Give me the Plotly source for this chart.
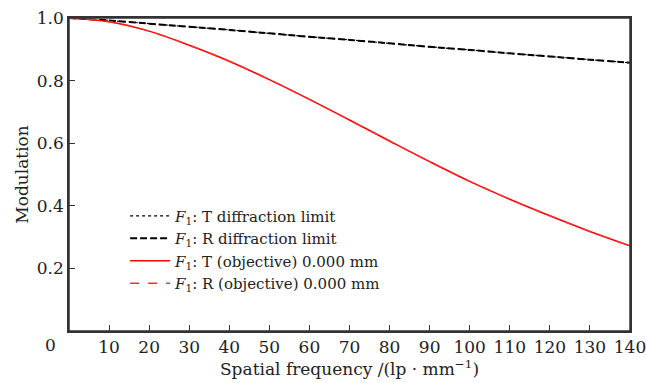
import plotly.graph_objects as go

freq = [0, 10, 20, 30, 40, 50, 60, 70, 80, 90, 100, 110, 120, 130, 140]
diff_T = [1.0, 0.992, 0.982, 0.972, 0.962, 0.951, 0.940, 0.930, 0.919, 0.908, 0.898, 0.887, 0.877, 0.867, 0.857]
diff_R = [1.0, 0.992, 0.982, 0.972, 0.962, 0.951, 0.940, 0.930, 0.919, 0.908, 0.898, 0.887, 0.877, 0.867, 0.857]
obj_T = [1.0, 0.988, 0.958, 0.913, 0.862, 0.803, 0.740, 0.674, 0.607, 0.541, 0.478, 0.421, 0.368, 0.318, 0.272]
obj_R = [1.0, 0.988, 0.958, 0.913, 0.862, 0.803, 0.740, 0.674, 0.607, 0.541, 0.478, 0.421, 0.368, 0.318, 0.272]
x_ticks = [10, 20, 30, 40, 50, 60, 70, 80, 90, 100, 110, 120, 130, 140]
y_ticks = [0.2, 0.4, 0.6, 0.8, 1.0]
names = ["<i>F</i><sub>1</sub>: T diffraction limit",
         "<i>F</i><sub>1</sub>: R diffraction limit",
         "<i>F</i><sub>1</sub>: T (objective) 0.000 mm",
         "<i>F</i><sub>1</sub>: R (objective) 0.000 mm"]

FONT = "DejaVu Serif"
TXT = "#222"
fig = go.Figure()
fig.add_trace(go.Scatter(x=freq, y=diff_T, mode="lines", name=names[0], line=dict(color="black", width=1.2, dash="dot", shape="spline")))
fig.add_trace(go.Scatter(x=freq, y=diff_R, mode="lines", name=names[1], line=dict(color="black", width=2, dash="7px,3px", shape="spline")))
fig.add_trace(go.Scatter(x=freq, y=obj_T, mode="lines", name=names[2], line=dict(color="#ff0000", width=1.5, shape="spline")))
fig.add_trace(go.Scatter(x=freq, y=obj_R, mode="lines", name=names[3], line=dict(color="#ff3030", width=1.5, dash="dash", shape="spline")))

axis_common = dict(showline=True, linecolor="#333", linewidth=1.5, mirror=True, showgrid=False, zeroline=False,
                   automargin=False, ticks="inside", ticklen=6, tickcolor="#333", ticklabeloverflow="allow",
                   tickfont=dict(family=FONT, size=17, color=TXT))
fig.update_xaxes(range=[0, 140], tickvals=x_ticks, ticktext=[str(v) for v in x_ticks],
                 title=dict(text="Spatial frequency /(lp · mm<sup>−1</sup>)", font=dict(family=FONT, size=17, color=TXT), standoff=2),
                 **axis_common)
fig.update_yaxes(range=[0, 1.0], tickvals=y_ticks, ticktext=["0.2", "0.4", "0.6", "0.8", "1.0"],
                 title=dict(text="Modulation", font=dict(family=FONT, size=17, color=TXT), standoff=4),
                 **axis_common)
fig.add_shape(type="rect", xref="paper", yref="paper", x0=0, x1=1, y0=0, y1=1,
              line=dict(color="#333", width=1.5), layer="above")
fig.add_annotation(x=0, y=0, xref="x", yref="y", text="0", showarrow=False, xanchor="right", yanchor="top",
                   xshift=-11, yshift=-2, font=dict(family=FONT, size=17, color=TXT))
fig.update_layout(width=646, height=383, margin=dict(l=69, r=16, t=18, b=52),
                  paper_bgcolor="white", plot_bgcolor="white", font=dict(family=FONT, size=16, color=TXT),
                  legend=dict(x=0.1, y=0.42, xanchor="left", yanchor="top", bgcolor="rgba(0,0,0,0)",
                              font=dict(family=FONT, size=15, color=TXT), tracegroupgap=0, itemwidth=40),
                  showlegend=True)
fig.write_html("out.html", config={"displayModeBar": False},
               post_script="document.body.style.margin='0';document.body.style.overflow='hidden';")
